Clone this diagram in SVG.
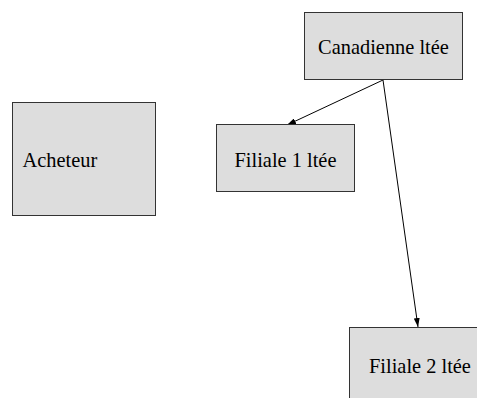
<svg xmlns="http://www.w3.org/2000/svg" width="477" height="398" viewBox="0 0 477 398">
<defs>
<style>
.box{fill:#dddddd;stroke:#333333;stroke-width:1}
.lbl{font-family:"Liberation Serif","Times New Roman",serif;font-size:20.4px;fill:#000}
.conn{stroke:#000;stroke-width:1;fill:none;marker-end:url(#ah)}
</style>
<marker id="ah" markerWidth="9" markerHeight="6" refX="9" refY="3" orient="auto" markerUnits="userSpaceOnUse">
<path d="M0,0 L9,3 L0,6 z" fill="#000"/>
</marker>
</defs>
<rect width="477" height="398" fill="#fff"/>
<g id="connectors">
<line class="conn" x1="383" y1="80" x2="287" y2="125"/>
<line class="conn" x1="383" y1="80" x2="418" y2="327"/>
</g>
<g id="canadienne">
<rect class="box" x="304.5" y="12.5" width="158" height="67"/>
<text class="lbl" x="383.5" y="54" text-anchor="middle">Canadienne ltée</text>
</g>
<g id="acheteur">
<rect class="box" x="12.5" y="102.5" width="143" height="113"/>
<text class="lbl" x="22.5" y="167">Acheteur</text>
</g>
<g id="filiale1">
<rect class="box" x="216.5" y="124.5" width="138" height="67"/>
<text class="lbl" x="285.5" y="167" text-anchor="middle">Filiale 1 ltée</text>
</g>
<g id="filiale2">
<rect class="box" x="349.5" y="327.5" width="140" height="80"/>
<text class="lbl" x="369" y="373">Filiale 2 ltée</text>
</g>
</svg>
